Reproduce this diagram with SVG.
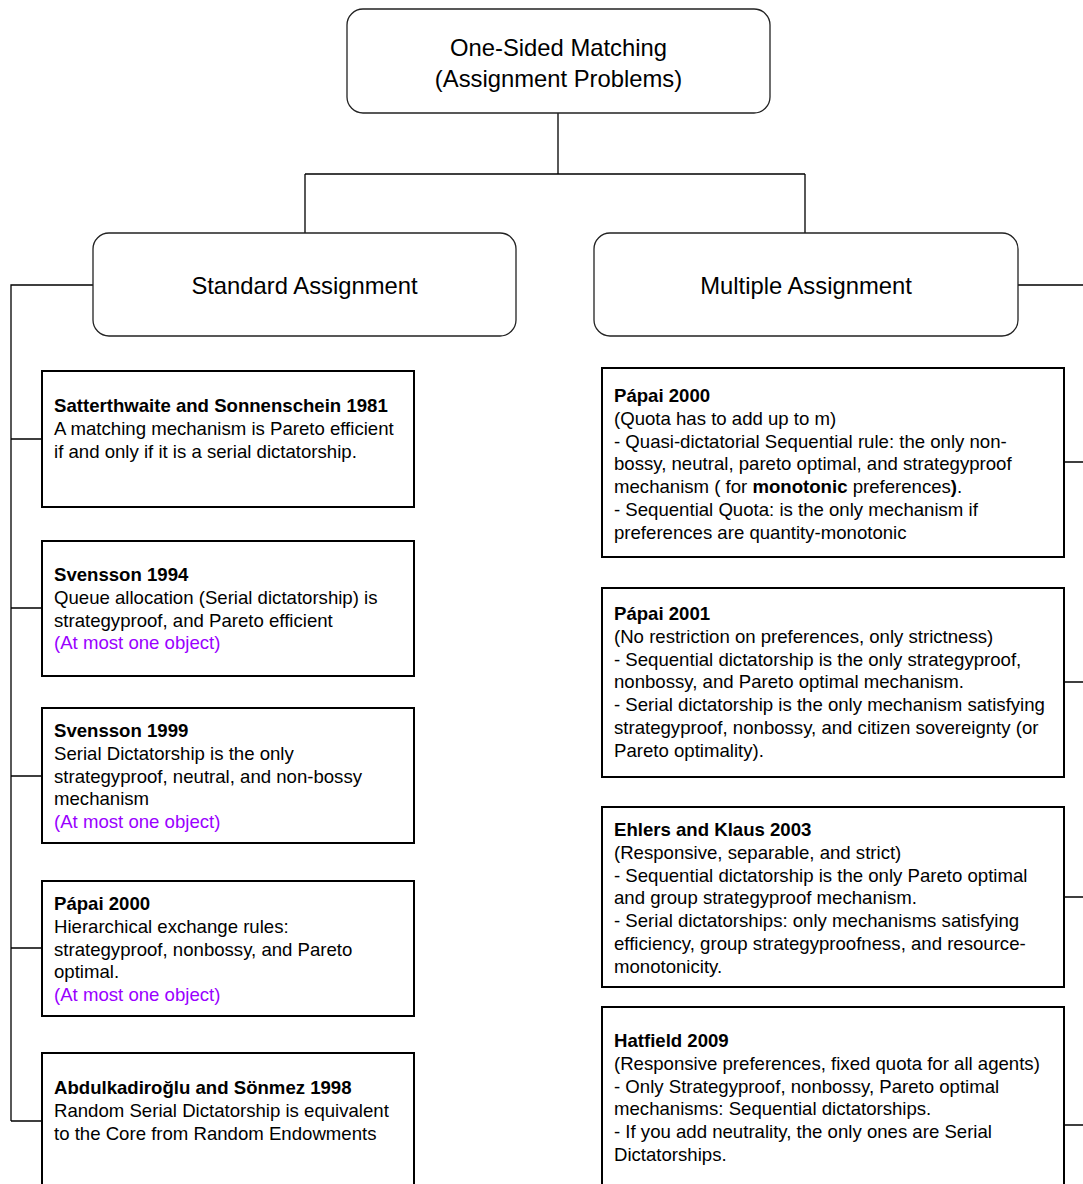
<svg xmlns="http://www.w3.org/2000/svg" width="1083" height="1184" viewBox="0 0 1083 1184">
<style>
.rnode{fill:#fff;stroke:#222;stroke-width:1.3}
.box{fill:#fff;stroke:#000;stroke-width:2}
.conn{fill:none;stroke:#000;stroke-width:1.3}
.big{font-family:"Liberation Sans",Arial,sans-serif;font-size:23.8px;fill:#000;text-anchor:middle}
.t{font-family:"Liberation Sans",Arial,sans-serif;font-size:18.6px;fill:#000}
.b{font-weight:bold}
.p{fill:#9900ff}
</style>
<rect width="1083" height="1184" fill="#fff"/>
<g id="connectors">
<path class="conn" d="M558 113V174M305 174H805M305 174V233M805 174V233"/>
<path class="conn" d="M93 285H11V1121M11 439H42M11 608H42M11 776H42M11 948H42M11 1121H42"/>
<path class="conn" d="M1018 285H1083M1064 462H1083M1064 682H1083M1064 897H1083M1064 1125H1083"/>
</g>
<g id="root">
<rect class="rnode" x="347" y="9" width="423" height="104" rx="16"/>
<text class="big" x="558.5" y="56">One-Sided Matching</text>
<text class="big" x="558.5" y="86.5">(Assignment Problems)</text>
</g>
<g id="standard">
<rect class="rnode" x="93" y="233" width="423" height="103" rx="16"/>
<text class="big" x="304.5" y="294">Standard Assignment</text>
</g>
<g id="multiple">
<rect class="rnode" x="594" y="233" width="424" height="103" rx="16"/>
<text class="big" x="806" y="294">Multiple Assignment</text>
</g>
<g id="s1">
<rect class="box" x="42" y="371" width="372" height="136"/>
<text class="t" x="54" y="412"><tspan class="b">Satterthwaite and Sonnenschein 1981</tspan><tspan x="54" dy="22.8">A matching mechanism is Pareto efficient</tspan><tspan x="54" dy="22.8">if and only if it is a serial dictatorship.</tspan></text>
</g>
<g id="s2">
<rect class="box" x="42" y="541" width="372" height="135"/>
<text class="t" x="54" y="581"><tspan class="b">Svensson 1994</tspan><tspan x="54" dy="22.8">Queue allocation (Serial dictatorship) is</tspan><tspan x="54" dy="22.8">strategyproof, and Pareto efficient</tspan><tspan x="54" dy="22.8" class="p">(At most one object)</tspan></text>
</g>
<g id="s3">
<rect class="box" x="42" y="708" width="372" height="135"/>
<text class="t" x="54" y="737"><tspan class="b">Svensson 1999</tspan><tspan x="54" dy="22.8">Serial Dictatorship is the only</tspan><tspan x="54" dy="22.8">strategyproof, neutral, and non-bossy</tspan><tspan x="54" dy="22.8">mechanism</tspan><tspan x="54" dy="22.8" class="p">(At most one object)</tspan></text>
</g>
<g id="s4">
<rect class="box" x="42" y="881" width="372" height="135"/>
<text class="t" x="54" y="910"><tspan class="b">Pápai 2000</tspan><tspan x="54" dy="22.8">Hierarchical exchange rules:</tspan><tspan x="54" dy="22.8">strategyproof, nonbossy, and Pareto</tspan><tspan x="54" dy="22.8">optimal.</tspan><tspan x="54" dy="22.8" class="p">(At most one object)</tspan></text>
</g>
<g id="s5">
<rect class="box" x="42" y="1053" width="372" height="136"/>
<text class="t" x="54" y="1094"><tspan class="b">Abdulkadiroğlu and Sönmez 1998</tspan><tspan x="54" dy="22.8">Random Serial Dictatorship is equivalent</tspan><tspan x="54" dy="22.8">to the Core from Random Endowments</tspan></text>
</g>
<g id="m1">
<rect class="box" x="602" y="368" width="462" height="189"/>
<text class="t" x="614" y="402"><tspan class="b">Pápai 2000</tspan><tspan x="614" dy="22.8">(Quota has to add up to m)</tspan><tspan x="614" dy="22.8">- Quasi-dictatorial Sequential rule: the only non-</tspan><tspan x="614" dy="22.8">bossy, neutral, pareto optimal, and strategyproof</tspan><tspan x="614" dy="22.8">mechanism ( for <tspan class="b">monotonic</tspan> preferences<tspan class="b">)</tspan>.</tspan><tspan x="614" dy="22.8">- Sequential Quota: is the only mechanism if</tspan><tspan x="614" dy="22.8">preferences are quantity-monotonic</tspan></text>
</g>
<g id="m2">
<rect class="box" x="602" y="588" width="462" height="189"/>
<text class="t" x="614" y="620"><tspan class="b">Pápai 2001</tspan><tspan x="614" dy="22.8">(No restriction on preferences, only strictness)</tspan><tspan x="614" dy="22.8">- Sequential dictatorship is the only strategyproof,</tspan><tspan x="614" dy="22.8">nonbossy, and Pareto optimal mechanism.</tspan><tspan x="614" dy="22.8">- Serial dictatorship is the only mechanism satisfying</tspan><tspan x="614" dy="22.8">strategyproof, nonbossy, and citizen sovereignty (or</tspan><tspan x="614" dy="22.8">Pareto optimality).</tspan></text>
</g>
<g id="m3">
<rect class="box" x="602" y="807" width="462" height="180"/>
<text class="t" x="614" y="836"><tspan class="b">Ehlers and Klaus 2003</tspan><tspan x="614" dy="22.8">(Responsive, separable, and strict)</tspan><tspan x="614" dy="22.8">- Sequential dictatorship is the only Pareto optimal</tspan><tspan x="614" dy="22.8">and group strategyproof mechanism.</tspan><tspan x="614" dy="22.8">- Serial dictatorships: only mechanisms satisfying</tspan><tspan x="614" dy="22.8">efficiency, group strategyproofness, and resource-</tspan><tspan x="614" dy="22.8">monotonicity.</tspan></text>
</g>
<g id="m4">
<rect class="box" x="602" y="1007" width="462" height="236"/>
<text class="t" x="614" y="1047"><tspan class="b">Hatfield 2009</tspan><tspan x="614" dy="22.8">(Responsive preferences, fixed quota for all agents)</tspan><tspan x="614" dy="22.8">- Only Strategyproof, nonbossy, Pareto optimal</tspan><tspan x="614" dy="22.8">mechanisms: Sequential dictatorships.</tspan><tspan x="614" dy="22.8">- If you add neutrality, the only ones are Serial</tspan><tspan x="614" dy="22.8">Dictatorships.</tspan></text>
</g>
</svg>
